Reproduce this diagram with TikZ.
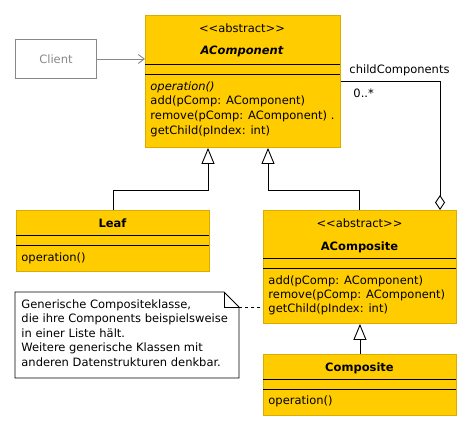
\documentclass[tikz,border=0pt]{standalone}
\usepackage{fontspec}
\setmainfont{DejaVu Sans}
\usetikzlibrary{arrows.meta}
\definecolor{umlyellow}{HTML}{FFCC00}
\definecolor{umlborder}{HTML}{D9AD00}
\definecolor{clientgray}{HTML}{888888}
\newcommand{\umlfont}{\fontsize{11.5}{13}\selectfont}
\tikzset{
	every path/.style = {line width = 0.9pt},
	umlbox/.style = {draw = umlborder, fill = umlyellow, anchor = north west, inner sep = 0pt, minimum width = 193pt},
	txt/.style = {inner sep = 0pt, font = \umlfont},
	member/.style = {txt, anchor = west},
	divider/.style = {draw = black},
	inherit/.style = {-{Triangle[open, width = 13pt, length = 16pt]}},
	aggr/.style = {-{Diamond[open, width = 10pt, length = 15pt]}}
}
\begin{document}
\begin{tikzpicture}[x = 1pt, y = -1pt]
	\useasboundingbox (0,0) rectangle (472,431);
	% client
	\node [draw = clientgray, minimum width = 81pt, minimum height = 39pt, inner sep = 0pt, anchor = north west, text = clientgray, font = \umlfont] (client) at (15,39) {Client};
	% abstract component
	\node [umlbox, minimum width = 195pt, minimum height = 132pt] (acomp) at (145,15) {};
	\draw [divider] (145,64) -- (340,64);
	\draw [divider] (145,74) -- (340,74);
	\node [txt] (acompst) at (242,28) {{<}{<}abstract{>}{>}};
	\node [txt, font = \umlfont\bfseries\itshape] (acompname) at (242,51) {AComponent};
	\node [member, font = \umlfont\itshape] (acompop) at (150,87) {operation()};
	\node [member] (acompadd) at (150,101.5) {add(pComp: AComponent)};
	\node [member] (acomprem) at (150,116.5) {remove(pComp: AComponent) .};
	\node [member] (acompget) at (150,131.5) {getChild(pIndex: int)};
	% leaf
	\node [umlbox, minimum height = 61pt] (leaf) at (16,210) {};
	\draw [divider] (16,235) -- (209,235);
	\draw [divider] (16,245) -- (209,245);
	\node [txt, font = \umlfont\bfseries] (leafname) at (112.5,223) {Leaf};
	\node [member] (leafop) at (21,258) {operation()};
	% abstract composite
	\node [umlbox, minimum height = 113pt] (acompo) at (263,210) {};
	\draw [divider] (263,258) -- (456,258);
	\draw [divider] (263,268) -- (456,268);
	\node [txt] (acompost) at (359.5,223) {{<}{<}abstract{>}{>}};
	\node [txt, font = \umlfont\bfseries] (acomponame) at (359.5,247) {AComposite};
	\node [member] (acompoadd) at (268,281) {add(pComp: AComponent)};
	\node [member] (acomporem) at (268,295.5) {remove(pComp: AComponent)};
	\node [member] (acompoget) at (268,309.5) {getChild(pIndex: int)};
	% composite
	\node [umlbox, minimum height = 61pt] (compo) at (263,354) {};
	\draw [divider] (263,379) -- (456,379);
	\draw [divider] (263,389) -- (456,389);
	\node [txt, font = \umlfont\bfseries] (componame) at (359.5,368) {Composite};
	\node [member] (compoop) at (268,401) {operation()};
	% note
	\coordinate (notefold) at (224,307);
	\draw [fill = white] (15,292) -- (224,292) -- (239,307) -- (239,378) -- (15,378) -- cycle;
	\draw (224,292) -- (notefold) -- (239,307);
	\node [member, anchor = north west, align = left, font = \fontsize{11.5}{14.5}\selectfont] (note) at (21,299) {Generische Compositeklasse,\\die ihre Components beispielsweise\\in einer Liste hält.\\Weitere generische Klassen mit\\anderen Datenstrukturen denkbar.};
	\coordinate (noteend) at (239,307);
	\draw [dashed] (noteend) -- (acompo.west |- noteend);
	% connectors
	\draw [-{Straight Barb[length = 6pt, width = 9pt]}, clientgray] (client.east) -- (acomp.west |- client.east);
	\draw [inherit] (leaf.north -| 113,0) |- (208,190) -- (acomp.south -| 208,0);
	\draw [inherit] (acompo.north -| 359,0) |- (268,190) -- (acomp.south -| 268,0);
	\draw [inherit] (compo.north) -- (acompo.south);
	\draw [aggr] (acomp.north east |- 0,81) -| (acompo.north -| 440,0);
	\node [txt, anchor = west] (rolename) at (349,70) {childComponents};
	\node [txt, anchor = west] (multi) at (353,93) {0..*};
\end{tikzpicture}
\end{document}
